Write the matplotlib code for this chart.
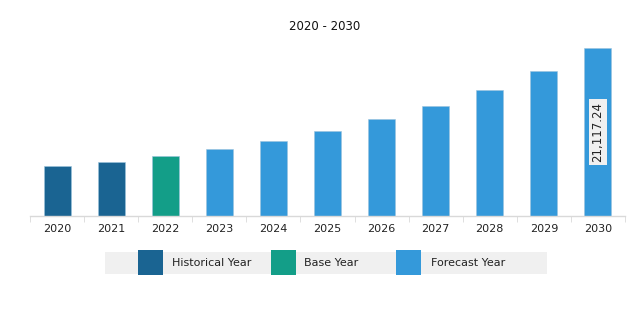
import numpy as np
import matplotlib
matplotlib.use("Agg")
import matplotlib.pyplot as plt
from matplotlib.patches import Rectangle

# data
years = ["2020", "2021", "2022", "2023", "2024", "2025",
         "2026", "2027", "2028", "2029", "2030"]
values = [6300, 6840, 7550, 8400, 9440, 10660,
          12170, 13850, 15860, 18250, 21117.24]
kinds = ["hist", "hist", "base", "fc", "fc", "fc",
         "fc", "fc", "fc", "fc", "fc"]
legend_labels = ["Historical Year", "Base Year", "Forecast Year"]

colors = {"hist": "#1a6492", "base": "#139e88", "fc": "#3499da"}

W, H = 643, 322
fig = plt.figure(figsize=(W / 100, H / 100), dpi=100)

# axes placed in pixel terms
left, right, top, base = 30, 625, 40, 216
ax = fig.add_axes([left / W, 1 - base / H, (right - left) / W, (base - top) / H])

x = np.arange(len(years))
bar_colors = [colors[k] for k in kinds]
ax.bar(x, values, width=0.5, color=bar_colors, edgecolor="#9cc3dd", linewidth=0.4)

ax.set_xlim(-0.5, len(years) - 0.5)
ax.set_ylim(0, values[-1] * (base - top) / (base - 48.3))

for s in ["top", "left", "right"]:
    ax.spines[s].set_visible(False)
ax.spines["bottom"].set_color("#d9d9d9")
ax.spines["bottom"].set_linewidth(1)
ax.set_yticks([])
ax.set_xticks(x)
ax.set_xticklabels(years, fontsize=8, color="#222222")
ax.tick_params(axis="x", which="major", length=0, pad=6)
ax.set_xticks(np.arange(len(years) + 1) - 0.5, minor=True)
ax.tick_params(axis="x", which="minor", length=4, color="#d9d9d9")

# value label on last bar
ax.text(x[-1], values[-1] * 0.5, f"{values[-1]:,.2f}", rotation=90,
        ha="center", va="center", fontsize=8.5, color="#222222",
        bbox=dict(boxstyle="square,pad=0.25", facecolor="#f0f0f0", edgecolor="none"))

fig.text(325 / W, 1 - 27 / H, "2020 - 2030", ha="center", va="center",
         fontsize=8.5, color="#111111")

# legend strip
fig.patches.append(Rectangle((105 / W, 1 - 274 / H), (547 - 105) / W, 22 / H,
                             transform=fig.transFigure, facecolor="#f0f0f0",
                             edgecolor="none"))
patch_x = [138, 271, 396]
text_x = [172, 304, 431]
for px, tx, lab, k in zip(patch_x, text_x, legend_labels, ["hist", "base", "fc"]):
    fig.patches.append(Rectangle((px / W, 1 - 275 / H), 25 / W, 25 / H,
                                 transform=fig.transFigure, facecolor=colors[k],
                                 edgecolor="none"))
    fig.text(tx / W, 1 - 263 / H, lab, ha="left", va="center",
             fontsize=8, color="#222222")

fig.savefig("out.png", dpi=100, facecolor="white")
